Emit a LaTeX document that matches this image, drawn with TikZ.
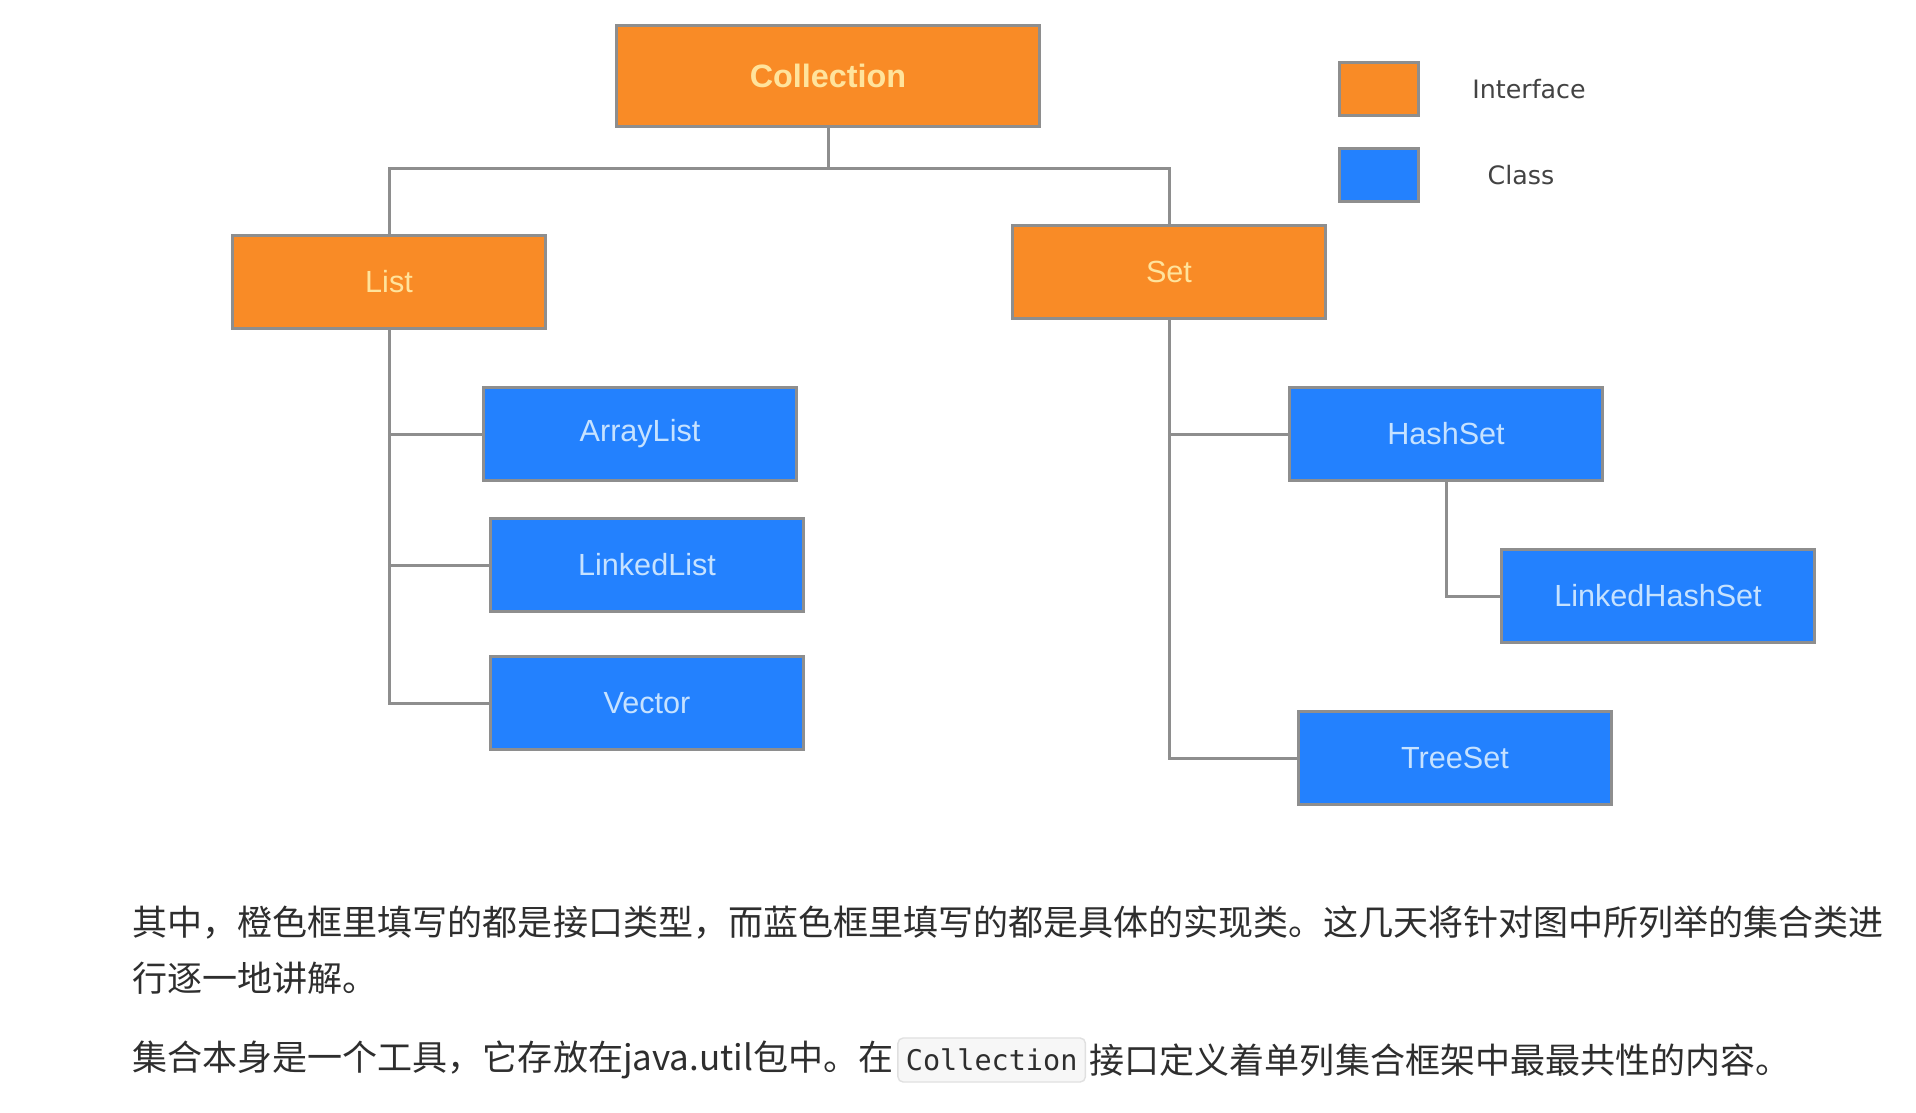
\documentclass[tikz,border=0pt]{standalone}
\usepackage{fontspec}
\setmainfont{Liberation Sans}
\newfontfamily\cjk{Noto Sans CJK SC}
\newfontfamily\legendfont{DejaVu Sans}
\newfontfamily\codefont{DejaVu Sans Mono}
\usetikzlibrary{positioning}

\definecolor{ifcorange}{HTML}{F98B26}
\definecolor{clsblue}{HTML}{2381FE}
\definecolor{edgegray}{HTML}{8E8E8E}
\definecolor{ifctext}{HTML}{FFE39C}
\definecolor{clstext}{HTML}{C6E2FF}
\definecolor{bodytext}{HTML}{2E2E2E}

\begin{document}
\begin{tikzpicture}[x=0.01cm, y=-0.01cm,
    box/.style={draw=edgegray, line width=0.85pt, minimum width=3.12cm, minimum height=0.93cm, inner sep=0pt, font=\fontsize{8.7}{10}\selectfont},
    iface/.style={box, fill=ifcorange, text=ifctext},
    impl/.style={box, fill=clsblue, text=clstext},
    keybox/.style={minimum width=0.79cm, minimum height=0.53cm},
    keytext/.style={text=bodytext!90, font=\legendfont\fontsize{7.2}{9}\selectfont},
    link/.style={draw=edgegray, line width=0.85pt},
    para/.style={anchor=west, inner sep=0pt, text=bodytext, font=\cjk\fontsize{9.96}{12}\selectfont},
    code/.style={draw=black!12, fill=black!3, rounded corners=1.5pt, inner xsep=0.08cm, inner ysep=0pt, minimum height=0.44cm, text=bodytext, font=\codefont\fontsize{8.1}{10}\selectfont}]

    \useasboundingbox[fill=white] (0,0) rectangle (1916,1112);

    % interfaces
    \node[iface, minimum width=4.22cm, minimum height=1.01cm, font=\bfseries\fontsize{9.2}{11}\selectfont] (coll) at (828,76) {Collection};
    \node[iface] (list) at (389,282) {List};
    \node[iface] (set) at (1169,272) {Set};

    % classes
    \node[impl] (alist) at (640,434) {ArrayList};
    \node[impl] (llist) at (647,565) {LinkedList};
    \node[impl] (vec) at (647,703) {Vector};
    \node[impl] (hset) at (1446,434) {HashSet};
    \node[impl] (lhset) at (1658,596) {LinkedHashSet};
    \node[impl] (tset) at (1455,758) {TreeSet};

    % legend
    \node[iface, keybox] (keyif) at (1379,89) {};
    \node[impl, keybox] (keycls) at (1379,175) {};
    \node[keytext] (keyiftxt) at (1529,89) {Interface};
    \node[keytext] (keyclstxt) at (1521,175) {Class};

    % tree lines
    \draw[link] (coll.south) -- ++(0,40) coordinate (fork);
    \draw[link] (list.north) |- (fork) -| (set.north);
    \foreach \n in {alist,llist,vec}
        \draw[link] (list.south) |- (\n.west);
    \foreach \n in {hset,tset}
        \draw[link] (set.south) |- (\n.west);
    \draw[link] (hset.south) |- (lhset.west);

    % text below
    \node[para] (line1) at (132,923) {其中，橙色框里填写的都是接口类型，而蓝色框里填写的都是具体的实现类。这几天将针对图中所列举的集合类进};
    \node[para] (line2) at (132,978) {行逐一地讲解。};
    \node[para] (line3) at (132,1060) {集合本身是一个工具，它存放在java.util包中。在};
    \node[code, right=0.03cm of line3] (codeword) {Collection};
    \node[para, right=0.03cm of codeword] (line3b) {接口定义着单列集合框架中最最共性的内容。};
\end{tikzpicture}
\end{document}
